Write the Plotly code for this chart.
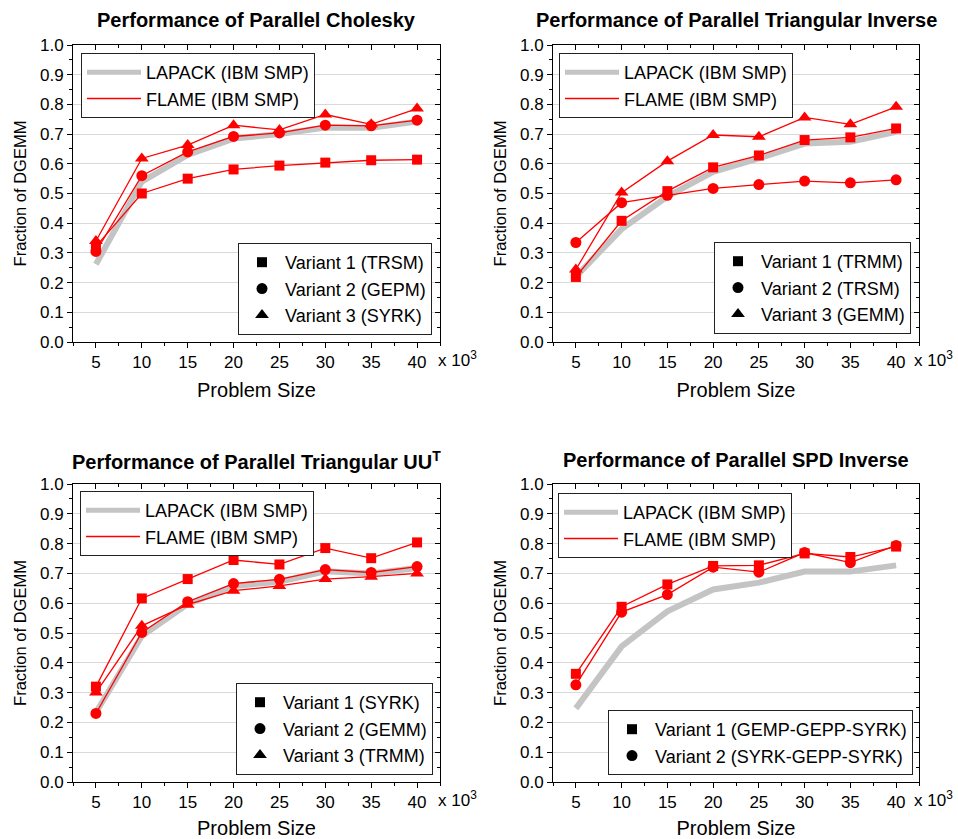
import plotly.graph_objects as go

sizes = [5, 10, 15, 20, 25, 30, 35, 40]

# Panel 1: Cholesky
chol_lapack = [0.262, 0.54, 0.63, 0.685, 0.70, 0.722, 0.721, 0.742]
chol_v1 = [0.322, 0.500, 0.550, 0.581, 0.594, 0.604, 0.612, 0.614]
chol_v2 = [0.305, 0.560, 0.640, 0.692, 0.704, 0.730, 0.728, 0.747]
chol_v3 = [0.340, 0.618, 0.663, 0.730, 0.714, 0.766, 0.733, 0.786]

# Panel 2: Triangular inverse
tinv_lapack = [0.220, 0.380, 0.490, 0.573, 0.618, 0.668, 0.674, 0.708]
tinv_v1 = [0.219, 0.408, 0.508, 0.588, 0.628, 0.680, 0.689, 0.719]
tinv_v2 = [0.335, 0.469, 0.494, 0.517, 0.530, 0.542, 0.536, 0.546]
tinv_v3 = [0.244, 0.503, 0.609, 0.697, 0.691, 0.756, 0.733, 0.792]

# Panel 3: Triangular UU^T
uut_lapack = [0.233, 0.490, 0.597, 0.658, 0.672, 0.707, 0.700, 0.718]
uut_v1 = [0.320, 0.616, 0.681, 0.745, 0.730, 0.785, 0.751, 0.804]
uut_v2 = [0.230, 0.502, 0.605, 0.666, 0.680, 0.713, 0.703, 0.723]
uut_v3 = [0.300, 0.524, 0.595, 0.642, 0.658, 0.681, 0.689, 0.700]

# Panel 4: SPD inverse
spd_lapack = [0.247, 0.455, 0.573, 0.646, 0.669, 0.706, 0.706, 0.727]
spd_v1 = [0.363, 0.588, 0.663, 0.725, 0.727, 0.767, 0.755, 0.790]
spd_v2 = [0.326, 0.570, 0.629, 0.721, 0.704, 0.770, 0.736, 0.794]

titles = ["Performance of Parallel Cholesky",
          "Performance of Parallel Triangular Inverse",
          "Performance of Parallel Triangular UU<sup>T</sup>",
          "Performance of Parallel SPD Inverse"]
variant_names = [["Variant 1 (TRSM)", "Variant 2 (GEPM)", "Variant 3 (SYRK)"],
                 ["Variant 1 (TRMM)", "Variant 2 (TRSM)", "Variant 3 (GEMM)"],
                 ["Variant 1 (SYRK)", "Variant 2 (GEMM)", "Variant 3 (TRMM)"],
                 ["Variant 1 (GEMP-GEPP-SYRK)", "Variant 2 (SYRK-GEPP-SYRK)"]]
lapack_data = [chol_lapack, tinv_lapack, uut_lapack, spd_lapack]
flame_data = [[chol_v1, chol_v2, chol_v3],
              [tinv_v1, tinv_v2, tinv_v3],
              [uut_v1, uut_v2, uut_v3],
              [spd_v1, spd_v2]]
xtick_vals = [5, 10, 15, 20, 25, 30, 35, 40]
ytick_vals = [0.0, 0.1, 0.2, 0.3, 0.4, 0.5, 0.6, 0.7, 0.8, 0.9, 1.0]

FONT = "Arial, Liberation Sans, sans-serif"
RED = "#ff0000"
GRAY = "#c4c4c4"
symbols = ["square", "circle", "triangle-up"]
msizes = [10, 11, 12]

W, H = 958, 839
ML, MR, MT, MB = 73, 39, 45, 57
PW = W - ML - MR
PH = H - MT - MB

def px_x(px):
    return (px - ML) / PW

def px_y(py):
    return (H - MB - py) / PH

xdomains = [[0, px_x(440)], [px_x(553), 1.0], [0, px_x(440)], [px_x(553), 1.0]]
ydomains = [[px_y(342), 1.0], [px_y(342), 1.0], [0, px_y(484)], [0, px_y(484)]]

fig = go.Figure()
layout = dict(width=W, height=H, margin=dict(l=ML, r=MR, t=MT, b=MB, autoexpand=False),
              paper_bgcolor="white", plot_bgcolor="white",
              font=dict(family=FONT, color="black", size=17),
              showlegend=True, annotations=[])

leg1_pos = [(px_x(81), px_y(53)), (px_x(559), px_y(53)),
            (px_x(80), px_y(491)), (px_x(558), px_y(493))]
leg2_pos = [(px_x(432), px_y(335)), (px_x(911), px_y(334)),
            (px_x(433), px_y(775)), (px_x(913), px_y(775))]

for i in range(4):
    n = i + 1
    xa = "x" if n == 1 else f"x{n}"
    ya = "y" if n == 1 else f"y{n}"
    l1 = "legend" if n == 1 else f"legend{2*n-1}"
    l2 = f"legend{2*n}"
    # LAPACK
    fig.add_trace(go.Scatter(x=sizes, y=lapack_data[i], mode="lines",
                             line=dict(color=GRAY, width=6), xaxis=xa, yaxis=ya,
                             showlegend=False, hoverinfo="skip"))
    for k, vals in enumerate(flame_data[i]):
        fig.add_trace(go.Scatter(x=sizes, y=vals, mode="lines+markers",
                                 line=dict(color=RED, width=1.3),
                                 marker=dict(symbol=symbols[k], size=msizes[k], color=RED),
                                 xaxis=xa, yaxis=ya, showlegend=False))
    # legend entries
    fig.add_trace(go.Scatter(x=[None], y=[None], mode="lines", name="LAPACK (IBM SMP)",
                             line=dict(color=GRAY, width=5), xaxis=xa, yaxis=ya, legend=l1))
    fig.add_trace(go.Scatter(x=[None], y=[None], mode="lines", name="FLAME (IBM SMP)",
                             line=dict(color=RED, width=1.5), xaxis=xa, yaxis=ya, legend=l1))
    for k, nm in enumerate(variant_names[i]):
        fig.add_trace(go.Scatter(x=[None], y=[None], mode="markers", name=nm,
                                 marker=dict(symbol=symbols[k], size=msizes[k], color="black"),
                                 xaxis=xa, yaxis=ya, legend=l2))

    key_x = "xaxis" if n == 1 else f"xaxis{n}"
    key_y = "yaxis" if n == 1 else f"yaxis{n}"
    layout[key_x] = dict(domain=xdomains[i], anchor=ya, range=[2.5, 42.5], automargin=False,
                         tickvals=xtick_vals, ticks="outside", ticklen=5, tickwidth=1,
                         tickcolor="black", showline=True, linecolor="black", linewidth=1,
                         showgrid=False, zeroline=False,
                         tickfont=dict(size=17),
                         minor=dict(dtick=2.5, tick0=2.5, ticks="outside", ticklen=3,
                                    tickcolor="black", showgrid=False),
                         title=dict(text="Problem Size", font=dict(size=20), standoff=11))
    layout[key_y] = dict(domain=ydomains[i], anchor=xa, range=[0, 1.0], automargin=False,
                         tickvals=ytick_vals, tickformat=".1f", ticks="outside", ticklen=5,
                         tickwidth=1, tickcolor="black", showline=True, linecolor="black",
                         linewidth=1, showgrid=True, gridcolor="#d9d9d9", gridwidth=1,
                         zeroline=False, tickfont=dict(size=17),
                         minor=dict(dtick=0.05, tick0=0, ticks="outside", ticklen=3,
                                    tickcolor="black", showgrid=False),
                         title=dict(text="Fraction of DGEMM", font=dict(size=16.5), standoff=9))
    # mirror axes with inward ticks
    mx = 4 + n
    layout[f"xaxis{mx}"] = dict(domain=xdomains[i], anchor=ya, overlaying=xa, side="top",
                                range=[2.5, 42.5], tickvals=xtick_vals, ticks="inside",
                                ticklen=5, tickcolor="black", showticklabels=False,
                                showline=True, linecolor="black", linewidth=1,
                                showgrid=False, zeroline=False, automargin=False,
                                minor=dict(dtick=2.5, tick0=2.5, ticks="inside", ticklen=3,
                                           tickcolor="black", showgrid=False))
    layout[f"yaxis{mx}"] = dict(domain=ydomains[i], anchor=xa, overlaying=ya, side="right",
                                range=[0, 1.0], tickvals=ytick_vals, ticks="inside",
                                ticklen=5, tickcolor="black", showticklabels=False,
                                showline=True, linecolor="black", linewidth=1,
                                showgrid=False, zeroline=False, automargin=False,
                                minor=dict(dtick=0.05, tick0=0, ticks="inside", ticklen=3,
                                           tickcolor="black", showgrid=False))
    fig.add_trace(go.Scatter(x=[None], y=[None], xaxis=f"x{mx}", yaxis=ya,
                             showlegend=False, hoverinfo="skip"))
    fig.add_trace(go.Scatter(x=[None], y=[None], xaxis=xa, yaxis=f"y{mx}",
                             showlegend=False, hoverinfo="skip"))

    # legends
    layout[l1] = dict(x=leg1_pos[i][0], y=leg1_pos[i][1], xanchor="left", yanchor="top",
                      bgcolor="white", bordercolor="#222222", borderwidth=1,
                      font=dict(size=18), itemwidth=54, tracegroupgap=0)
    layout[l2] = dict(x=leg2_pos[i][0], y=leg2_pos[i][1], xanchor="right", yanchor="bottom",
                      bgcolor="white", bordercolor="#222222", borderwidth=1,
                      font=dict(size=18), itemwidth=36, tracegroupgap=0)

    # title
    xc = (xdomains[i][0] + xdomains[i][1]) / 2
    ty = px_y(20) if i < 2 else px_y(460)
    layout["annotations"].append(dict(text=f"<b>{titles[i]}</b>", x=xc, y=ty,
                                      xref="paper", yref="paper", showarrow=False,
                                      xanchor="center", yanchor="middle",
                                      font=dict(size=20)))
    # x 10^3
    bx = px_x(436) if i % 2 == 0 else px_x(912)
    by = px_y(359) if i < 2 else px_y(799)
    layout["annotations"].append(dict(text="x 10<sup>3</sup>", x=bx, y=by,
                                      xref="paper", yref="paper", showarrow=False,
                                      xanchor="left", yanchor="middle",
                                      font=dict(size=17)))

fig.update_layout(**layout)
fig.write_html("out.html", config={"displayModeBar": False},
               post_script="document.body.style.margin='0px';document.body.style.overflow='hidden';")
